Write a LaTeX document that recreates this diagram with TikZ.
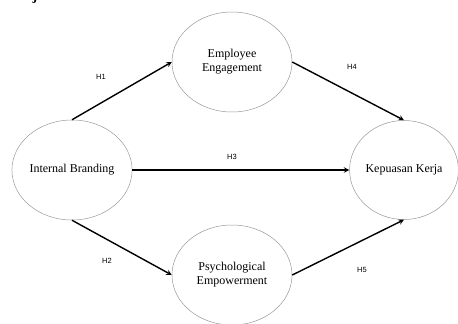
\documentclass[tikz,border=0pt]{standalone}
\usepackage{fontspec}
\setmainfont{Liberation Serif}
\newfontfamily\hfont{Liberation Sans}
\usetikzlibrary{shapes.geometric}

\begin{document}
\begin{tikzpicture}[x=1pt,y=-1pt,>=stealth,
    construct/.style={ellipse,draw=gray!80,line width=0.5pt,inner sep=0pt,
      minimum width=120pt,minimum height=100pt,align=center,
      font=\fontsize{12}{14}\selectfont},
    path/.style={->,line width=1.4pt},
    hyp/.style={font=\hfont\fontsize{7.5}{8}\selectfont}]
  \useasboundingbox (0,0) rectangle (458,324);

  % cut-off caption line above the model
  \begin{scope}
    \clip (0,0) rectangle (458,324);
    \node[anchor=base,font=\bfseries\fontsize{14}{16}\selectfont] (cap) at (35,1) {j};
  \end{scope}

  % constructs
  \node[construct] (ib) at (72,170) {Internal Branding};
  \node[construct] (ee) at (232,62) {Employee\\Engagement};
  \node[construct] (pe) at (232,275) {Psychological\\Empowerment};
  \node[construct,minimum width=108pt,minimum height=99pt] (kk) at (404,170) {Kepuasan Kerja};

  % hypothesised paths
  \draw[path] (ib.north) -- (ee.west);
  \draw[path] (ib.south) -- (pe.west);
  \draw[path] (ib.east) -- (kk.west);
  \draw[path] (ee.east) -- (kk.north);
  \draw[path] (pe.east) -- (kk.south);

  \node[hyp] (h1) at (101,77) {H1};
  \node[hyp] (h2) at (107,261) {H2};
  \node[hyp] (h3) at (232,157) {H3};
  \node[hyp] (h4) at (352,67) {H4};
  \node[hyp] (h5) at (362,270) {H5};
\end{tikzpicture}
\end{document}
